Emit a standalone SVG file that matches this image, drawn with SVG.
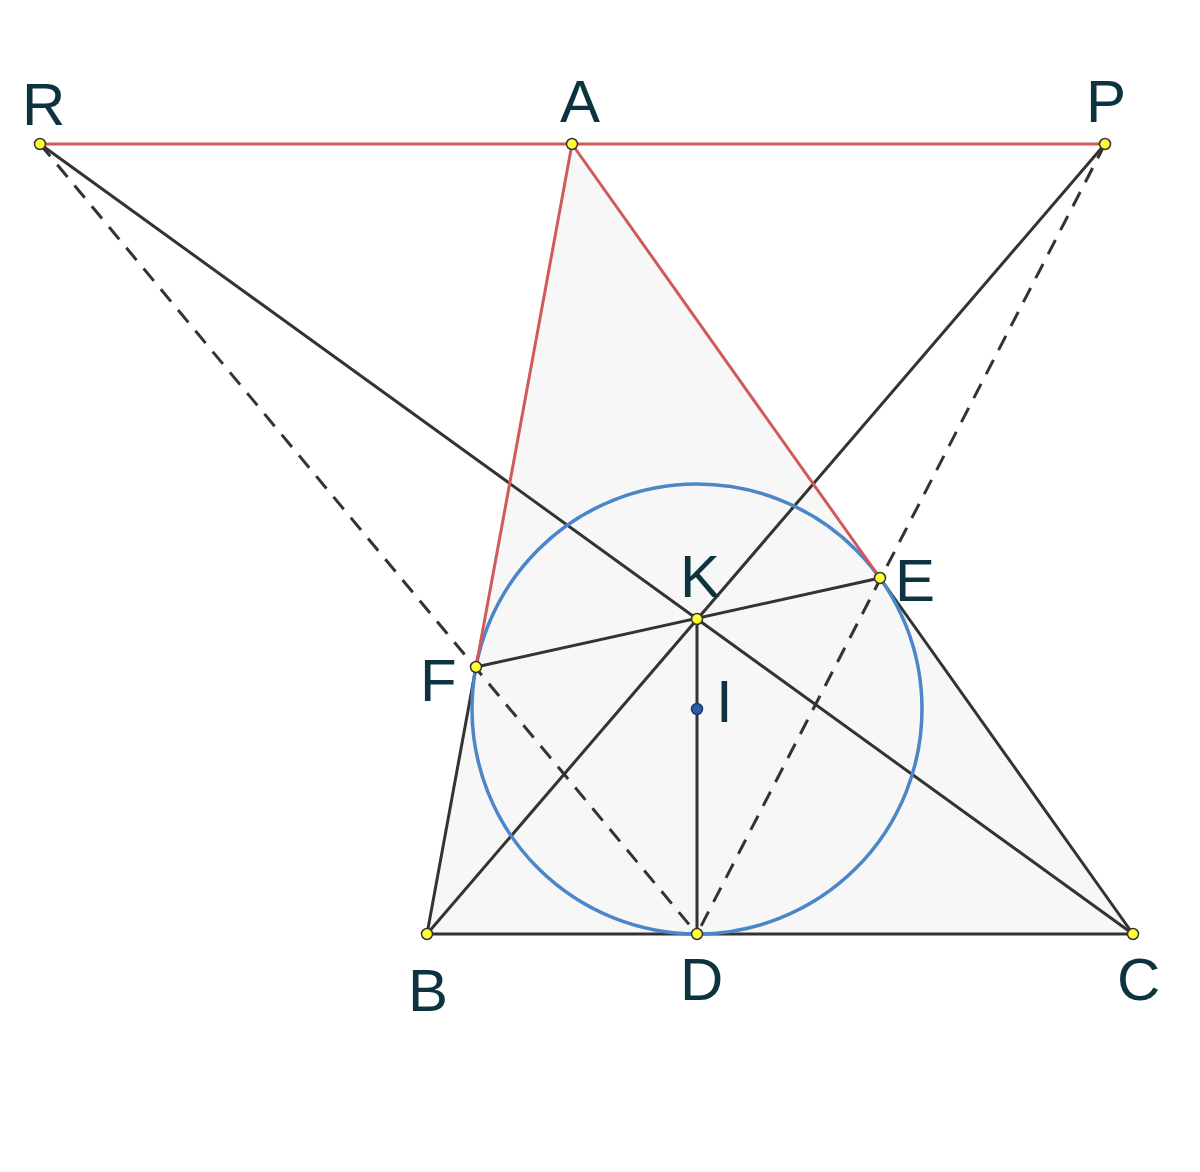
<svg xmlns="http://www.w3.org/2000/svg" width="1200" height="1172" viewBox="0 0 1200 1172">
<style>
.ln{stroke:#333333;stroke-width:3;fill:none;stroke-linecap:round}
.red{stroke:#d05a5a;stroke-width:3;fill:none;stroke-linecap:round}
.dash{stroke:#333333;stroke-width:3;fill:none;stroke-dasharray:16 11}
.pt{fill:#ffff33;stroke:#333333;stroke-width:1.5}
.lb{font-family:"Liberation Sans",Arial,sans-serif;font-size:60px;fill:#0d3340}
</style>
<rect width="1200" height="1172" fill="#ffffff"/>
<polygon points="572,144 427,934 1133,934" fill="#f7f7f7"/>
<g id="connectors">
<line class="dash" x1="40" y1="144" x2="697" y2="934"/>
<line class="dash" x1="1105" y1="144" x2="697" y2="934"/>
<line class="ln" x1="40" y1="144" x2="1133" y2="934"/>
<line class="ln" x1="1105" y1="144" x2="427" y2="934"/>
<line class="ln" x1="476" y1="667" x2="880" y2="578"/>
<line class="ln" x1="697" y1="619" x2="697" y2="934"/>
<line class="ln" x1="476" y1="667" x2="427" y2="934"/>
<line class="ln" x1="880" y1="578" x2="1133" y2="934"/>
<line class="ln" x1="427" y1="934" x2="1133" y2="934"/>
<circle cx="697" cy="709" r="225" fill="none" stroke="#4a86c8" stroke-width="3.5"/>
<line class="red" x1="40" y1="144" x2="1105" y2="144"/>
<line class="red" x1="572" y1="144" x2="476" y2="667"/>
<line class="red" x1="572" y1="144" x2="880" y2="578"/>
</g>
<g id="R"><circle class="pt" cx="40" cy="144" r="5.5"/><text class="lb" x="22" y="125">R</text></g>
<g id="A"><circle class="pt" cx="572" cy="144" r="5.5"/><text class="lb" x="560" y="122">A</text></g>
<g id="P"><circle class="pt" cx="1105" cy="144" r="5.5"/><text class="lb" x="1086" y="122">P</text></g>
<g id="K"><circle class="pt" cx="697" cy="619" r="5.5"/><text class="lb" x="680" y="597">K</text></g>
<g id="E"><circle class="pt" cx="880" cy="578" r="5.5"/><text class="lb" x="895" y="601">E</text></g>
<g id="F"><circle class="pt" cx="476" cy="667" r="5.5"/><text class="lb" x="420" y="701">F</text></g>
<g id="I"><circle cx="697" cy="709" r="5.5" fill="#2a5fa8" stroke="#1a3a6a" stroke-width="1.5"/><text class="lb" x="716" y="722">I</text></g>
<g id="B"><circle class="pt" cx="427" cy="934" r="5.5"/><text class="lb" x="408" y="1011">B</text></g>
<g id="D"><circle class="pt" cx="697" cy="934" r="5.5"/><text class="lb" x="680" y="1000">D</text></g>
<g id="C"><circle class="pt" cx="1133" cy="934" r="5.5"/><text class="lb" x="1117" y="1000">C</text></g>
</svg>
